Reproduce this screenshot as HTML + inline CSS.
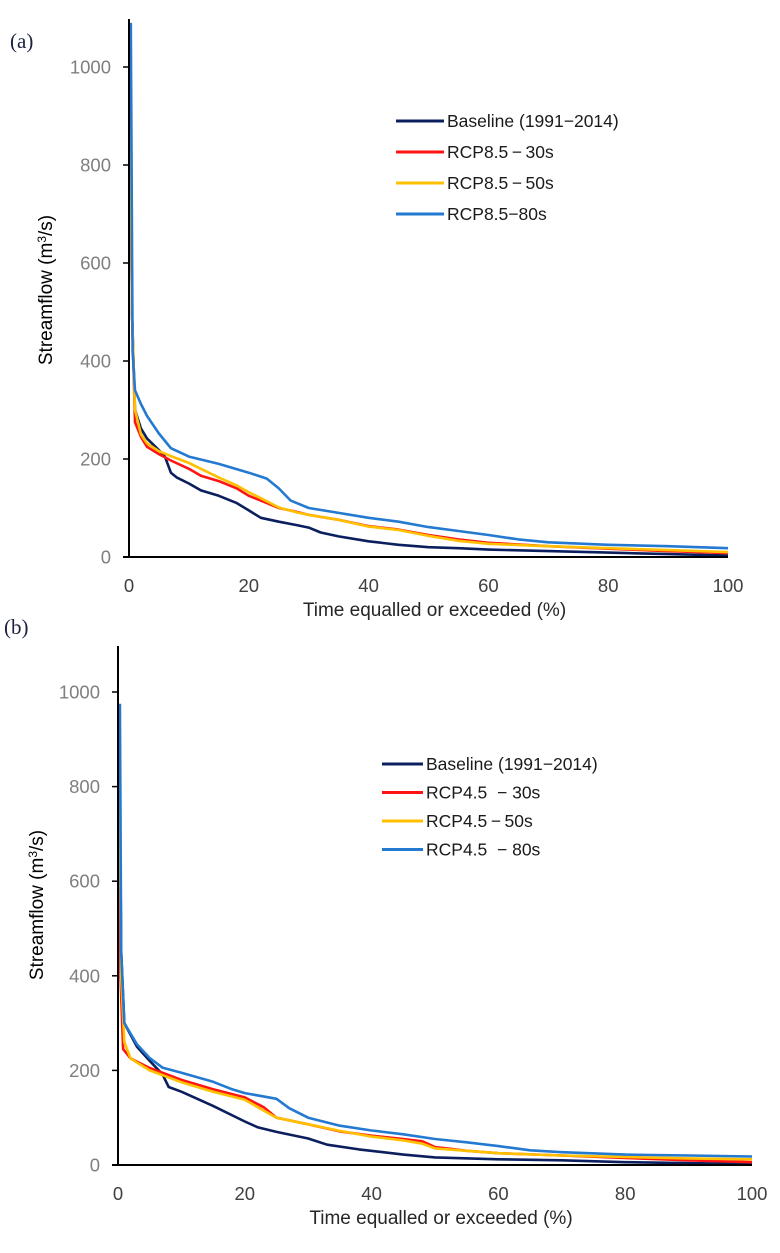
<!DOCTYPE html>
<html><head><meta charset="utf-8"><style>
html,body{margin:0;padding:0;background:#fff;}
svg{display:block;font-family:"Liberation Sans",sans-serif;}
</style></head><body>
<svg id="fig" width="780" height="1253" viewBox="0 0 780 1253"></svg>
<script>
const xTicks=[0,20,40,60,80,100];
const yTicks=[0,200,400,600,800,1000];
const seriesColors=["#0b1f5e","#ff1414","#ffc000","#2479d0"];
const legendA=["Baseline (1991\u22122014)","RCP8.5\u2009\u2212\u200930s","RCP8.5\u2009\u2212\u200950s","RCP8.5\u221280s"];
const legendB=["Baseline (1991\u22122014)","RCP4.5  \u2212 30s","RCP4.5\u2009\u2212\u200950s","RCP4.5  \u2212 80s"];
// panel (a) data: [exceedance %, streamflow]
const aBase=[[0.2,1000],[0.5,500],[1,300],[2,262],[3,242],[5,218],[6,205],[7,172],[8,162],[10,150],[12,136],[15,125],[18,110],[20,95],[22,80],[25,72],[28,65],[30,60],[32,50],[35,42],[40,32],[45,25],[50,20],[55,18],[60,15],[70,12],[80,9],[90,6],[100,3]];
const a30=[[0.2,900],[0.5,500],[1,275],[2,245],[3,225],[5,210],[7,197],[10,180],[12,166],[15,155],[18,140],[20,125],[22,115],[25,100],[28,92],[30,86],[35,76],[40,63],[45,56],[50,45],[55,36],[60,29],[70,22],[80,17],[90,12],[100,8]];
const a50=[[0.2,1000],[0.5,500],[1,300],[2,250],[3,232],[5,216],[7,206],[10,192],[12,180],[15,162],[18,146],[20,132],[22,120],[25,101],[28,91],[30,86],[35,76],[40,62],[45,55],[50,43],[55,33],[60,27],[70,22],[80,18],[90,14],[100,10]];
const a80=[[0.3,1090],[0.6,420],[1,340],[2,312],[3,288],[5,252],[7,222],[10,205],[15,190],[20,172],[23,160],[25,140],[27,115],[30,100],[35,90],[40,80],[45,72],[50,61],[55,53],[60,45],[65,36],[70,30],[80,25],[90,22],[100,18]];
// panel (b) data
const bBase=[[0.2,900],[0.5,450],[1,300],[3,250],[5,220],[7,192],[8,165],[10,155],[15,125],[20,92],[22,80],[25,70],[30,56],[33,43],[38,33],[45,22],[50,16],[60,12],[70,10],[80,6],[100,2]];
const b30=[[0.2,780],[0.4,400],[0.8,245],[2,225],[5,205],[10,180],[15,160],[20,143],[23,122],[25,100],[30,86],[35,71],[40,62],[45,55],[48,50],[50,38],[55,30],[60,25],[70,20],[80,15],[90,10],[100,6]];
const b50=[[0.2,890],[0.5,400],[1,260],[2,225],[5,200],[10,175],[15,155],[20,138],[23,115],[25,100],[30,86],[35,72],[40,60],[45,52],[48,45],[50,35],[55,30],[60,25],[70,20],[80,17],[90,14],[100,12]];
const b80=[[0.3,975],[0.5,450],[1,300],[3,255],[5,226],[7,206],[10,195],[15,176],[18,160],[20,152],[25,140],[27,120],[30,100],[35,83],[40,73],[45,65],[50,55],[55,48],[60,40],[65,31],[70,27],[80,22],[90,20],[100,18]];

const NS="http://www.w3.org/2000/svg";
const svg=document.getElementById('fig');
function mk(tag,attrs,parent){const e=document.createElementNS(NS,tag);for(const k in attrs)e.setAttribute(k,attrs[k]);(parent||svg).appendChild(e);return e;}

function panel(cfg){
  const g=mk('g',{});
  
  
  const sx=v=>cfg.x0+(cfg.x1-cfg.x0)*v/100;
  const sy=v=>cfg.y0-(cfg.y0-cfg.y1000)*v/1000;
  const lab=mk('text',{x:cfg.labX,y:cfg.labY,'font-family':'"Liberation Serif",serif','font-size':21,fill:'#1a2240'},g);
  lab.textContent=cfg.label;
  
  
  cfg.series.forEach((s,i)=>{
    const pts=s.map(p=>sx(p[0]).toFixed(1)+','+sy(p[1]).toFixed(1)).join(' ');
    const pl=mk('polyline',{points:pts,fill:'none',stroke:seriesColors[i],'stroke-width':2.6,'stroke-linejoin':'round'},g);
    
    
  });
  const ya=mk('line',{x1:cfg.x0,y1:cfg.yTop,x2:cfg.x0,y2:cfg.y0+1,stroke:'#000','stroke-width':2},g);
  
  
  const xa=mk('line',{x1:cfg.x0-6,y1:cfg.y0,x2:cfg.x1,y2:cfg.y0,stroke:'#000','stroke-width':2},g);
  
  
  yTicks.forEach(v=>{
    mk('line',{x1:cfg.x0-6,y1:sy(v),x2:cfg.x0,y2:sy(v),stroke:'#000','stroke-width':1.5},g);
    const t=mk('text',{x:cfg.x0-18,y:sy(v)+6.5,'text-anchor':'end','font-size':18.5,fill:'#7f7f7f'},g);
    t.textContent=v;
    
    
  });
  xTicks.forEach(v=>{
    const t=mk('text',{x:sx(v),y:cfg.y0+35,'text-anchor':'middle','font-size':18.5,fill:'#404040'},g);
    t.textContent=v;
    
    
  });
  const xt=mk('text',{x:(cfg.x0+cfg.x1)/2+6,y:cfg.y0+59,'text-anchor':'middle','font-size':19,fill:'#262626'},g);
  xt.textContent='Time equalled or exceeded (%)';
  
  
  const yt=mk('text',{x:0,y:0,'text-anchor':'middle','font-size':19,fill:'#000',transform:`translate(${cfg.ytX},${cfg.ytY}) rotate(-90)`},g);
  yt.innerHTML='Streamflow (m<tspan dy="-6" font-size="12">3</tspan><tspan dy="6">/s)</tspan>';
  
  
  cfg.legend.forEach((name,i)=>{
    const y=cfg.legY+i*cfg.legDy;
    const lg=mk('g',{},g);
    
    
    mk('line',{x1:cfg.legX,y1:y,x2:cfg.legX+cfg.legW,y2:y,stroke:seriesColors[i],'stroke-width':3},lg);
    const t=mk('text',{x:cfg.legX+cfg.legW+3,y:y+6,'font-size':17.5,fill:'#1a1a1a'},lg);
    t.setAttribute('style','white-space:pre');
    t.textContent=name;
  });
}
panel({name:'panel-a',label:'(a)',labX:10,labY:48,x0:129,x1:728,y0:557,y1000:67,yTop:19,
  series:[aBase,a30,a50,a80],legend:legendA,legX:396,legW:48,legY:121,legDy:31,ytX:52,ytY:290});
panel({name:'panel-b',label:'(b)',labX:4,labY:634,x0:118,x1:752,y0:1165,y1000:692,yTop:646,
  series:[bBase,b30,b50,b80],legend:legendB,legX:382,legW:41,legY:764,legDy:28.5,ytX:43,ytY:905});
</script>
</body></html>
